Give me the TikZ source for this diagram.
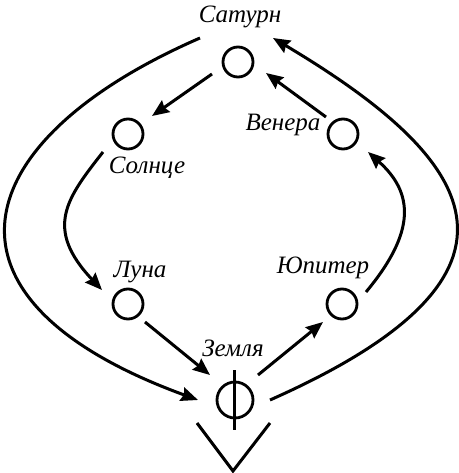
\documentclass[tikz,border=0pt]{standalone}
\usepackage{fontspec}
\setmainfont{Liberation Serif}
\usetikzlibrary{arrows.meta,calc}
\begin{document}
\begin{tikzpicture}[x=1pt,y=-1pt,
  planet/.style={circle,draw,line width=2.8pt,minimum size=30pt,inner sep=0pt},
  lbl/.style={font=\fontsize{25}{25}\selectfont\itshape,inner sep=0pt},
  link/.style={line width=3pt,-{Stealth[length=17pt,width=14pt,inset=2pt]}},
  plain/.style={line width=3pt}]
\useasboundingbox (0,0) rectangle (458,473);
% planets
\node[planet] (sat) at (238,62) {};
\node[planet] (sol) at (128,134) {};
\node[planet] (ven) at (343,134) {};
\node[planet] (lun) at (128,304) {};
\node[planet] (jup) at (342,304) {};
\node[planet,minimum size=36pt] (ear) at (235,400) {};
% labels
\node[lbl] (tsat) at (240,17) {Сатурн};
\node[lbl] (tsol) at (147,168) {Солнце};
\node[lbl] (tven) at (283,125) {Венера};
\node[lbl] (tlun) at (140,272) {Луна};
\node[lbl] (tjup) at (323,268) {Юпитер};
\node[lbl] (tear) at (233,348) {Земля};
% earth symbol parts
\draw[plain] ($(ear)+(-1,-30)$) -- ($(ear)+(-1,30)$);
\draw[plain] ($(ear)+(-38,23)$) -- ($(ear)+(-2,71)$) -- ($(ear)+(35,23)$);
% straight arrows
\draw[link] ($(sat)+(-26,12)$) -- ($(sol)+(24,-18)$);
\draw[link] ($(ven)+(-17,-17)$) -- ($(sat)+(28,11)$);
\draw[link] ($(lun)+(17,18)$) -- ($(ear)+(-25,-25)$);
\draw[link] ($(ear)+(23,-25)$) -- ($(jup)+(-19,18)$);
% curved arrows
\draw[link] ($(sol)+(-25,18)$) .. controls (67,198) and (43.5,228) .. ($(lun)+(-26,-14)$);
\draw[link] ($(jup)+(24,-12)$) .. controls (416,232) and (414,193) .. ($(ven)+(25,18)$);
\draw[link] ($(sat)+(-38,-24)$) .. controls (-30,138) and (-84,297) .. ($(ear)+(-37,0)$);
\draw[link] ($(ear)+(35,0)$) .. controls (561,271) and (471,156) .. ($(sat)+(35,-24)$);
\end{tikzpicture}
\end{document}
